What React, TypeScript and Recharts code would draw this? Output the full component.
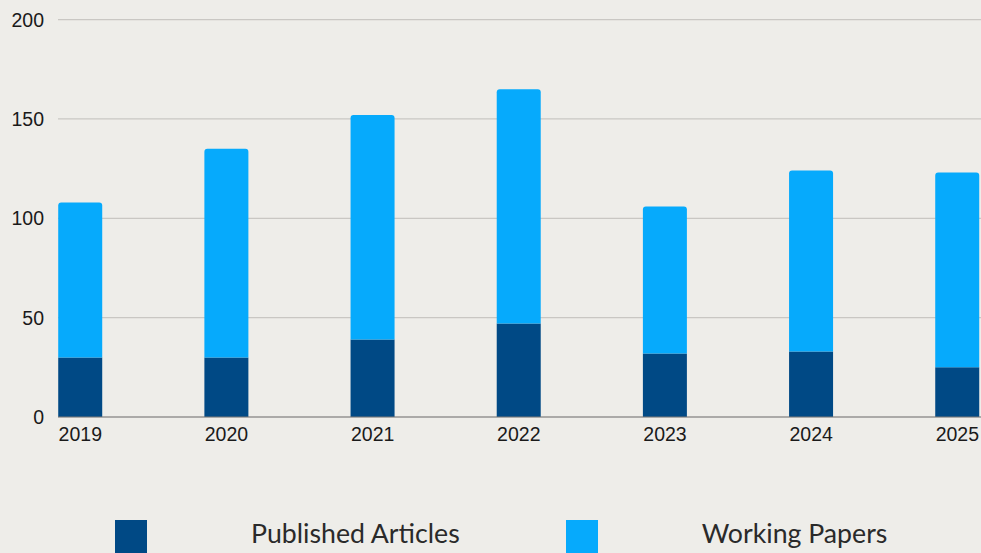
import { BarChart, Bar, XAxis, YAxis, CartesianGrid } from "recharts"

const years = ["2019", "2020", "2021", "2022", "2023", "2024", "2025"]
const publishedArticles = [30, 30, 39, 47, 32, 33, 25]
const workingPapers = [78, 105, 113, 118, 74, 91, 98]
const yTicks = [0, 50, 100, 150, 200]

const series = [
  { key: "published", name: "Published Articles", color: "#004985" },
  { key: "working", name: "Working Papers", color: "#06AAFC" },
]

const data = years.map((year, i) => ({
  idx: i,
  year,
  published: publishedArticles[i],
  working: workingPapers[i],
}))

const tickStyle = { fontFamily: "'Liberation Sans', Arial, sans-serif", fontSize: 19.5, fill: "#1a1a1a" }

function LegendRow() {
  return (
    <div
      style={{
        position: "absolute",
        top: 520,
        left: 115,
        display: "flex",
        alignItems: "flex-start",
        fontFamily: "Lato, sans-serif",
        fontSize: 26.7,
        lineHeight: "32px",
        color: "#2a2a2a",
        whiteSpace: "nowrap",
      }}
    >
      {series.map((s, i) => (
        <div key={s.key} style={{ display: "flex", alignItems: "flex-start", marginLeft: i === 0 ? 0 : 106 }}>
          <div style={{ width: 32, height: 33, background: s.color, marginRight: 104 }} />
          <span style={{ marginTop: -3 }}>{s.name}</span>
        </div>
      ))}
    </div>
  )
}

export default function App() {
  return (
    <div
      style={{
        position: "absolute",
        left: 0,
        top: 0,
        width: 981,
        height: 553,
        overflow: "hidden",
        background: "#EEEDE9",
      }}
    >
      <BarChart width={981} height={553} data={data} margin={{ top: 19.6, right: 0, left: 0, bottom: 106 }}>
        <CartesianGrid vertical={false} stroke="#c9c7c3" strokeWidth={1.2} />
        <XAxis
          dataKey="idx"
          type="number"
          domain={[-0.1526, 6.162]}
          allowDataOverflow
          ticks={[0, 1, 2, 3, 4, 5, 6]}
          tickFormatter={(v) => years[v]}
          tickLine={false}
          tickSize={0}
          tickMargin={10.5}
          axisLine={{ stroke: "#7a7a7a", strokeWidth: 1.2 }}
          tick={tickStyle}
          height={30}
        />
        <YAxis
          domain={[0, 200]}
          ticks={yTicks}
          width={58}
          tickLine={false}
          axisLine={false}
          tickSize={0}
          tickMargin={14}
          tick={tickStyle}
        />
        <Bar dataKey="published" name="Published Articles" stackId="a" fill={series[0].color} barSize={44} isAnimationActive={false} />
        <Bar
          dataKey="working"
          name="Working Papers"
          stackId="a"
          fill={series[1].color}
          barSize={44}
          radius={[3, 3, 0, 0]}
          isAnimationActive={false}
        />
      </BarChart>
      <LegendRow />
    </div>
  )
}
